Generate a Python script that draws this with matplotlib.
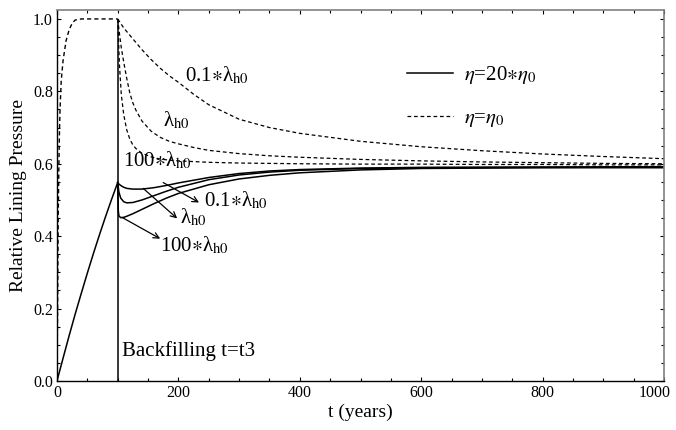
import matplotlib.pyplot as plt
import matplotlib.transforms as mtransforms
from matplotlib.ticker import MultipleLocator
from matplotlib.lines import Line2D

plt.rcParams['font.family'] = ['Liberation Serif', 'DejaVu Serif']
plt.rcParams['mathtext.fontset'] = 'stix'

# backfilling time t3 (years)
t_backfill = 100

# eta = eta0 (dashed): common rise before backfilling
rise_dash_t = [0, 1, 1.5, 2, 3, 4, 5, 7, 10, 15, 20, 25, 30, 40, 100]
rise_dash_p = [0, 0.2, 0.33, 0.45, 0.58, 0.68, 0.75, 0.83, 0.885, 0.94, 0.97, 0.988, 0.997, 1.0, 1.0]

# eta = eta0 (dashed): decay after backfilling
dash_t = [100, 103, 106, 110, 115, 120, 125, 130, 140, 155, 170, 185, 200, 225, 250, 300, 350, 400, 500, 600,
          700, 800, 900, 1000]
dash_01 = [1.0, 0.993, 0.985, 0.975, 0.965, 0.955, 0.945, 0.935, 0.915, 0.888, 0.864, 0.843, 0.825, 0.792,
           0.763, 0.723, 0.70, 0.684, 0.662, 0.647, 0.636, 0.627, 0.62, 0.614]
dash_1 = [1.0, 0.958, 0.92, 0.88, 0.835, 0.795, 0.768, 0.748, 0.718, 0.69, 0.673, 0.662, 0.655, 0.645,
          0.637, 0.628, 0.622, 0.618, 0.612, 0.608, 0.605, 0.603, 0.601, 0.60]
dash_100 = [1.0, 0.87, 0.79, 0.735, 0.693, 0.668, 0.652, 0.642, 0.629, 0.619, 0.613, 0.61, 0.608, 0.606,
            0.604, 0.602, 0.601, 0.60, 0.599, 0.599, 0.598, 0.598, 0.597, 0.597]

# eta = 20*eta0 (solid): rise before backfilling
rise_sol_t = [0, 10, 20, 30, 40, 50, 60, 70, 80, 90, 100]
rise_sol_p = [0, 0.063, 0.125, 0.185, 0.242, 0.298, 0.352, 0.404, 0.454, 0.502, 0.548]

# eta = 20*eta0 (solid): after backfilling
sol_t = [100, 101, 102, 105, 110, 115, 125, 140, 160, 180, 200, 250, 300, 350, 400, 500, 600, 800, 1000]
sol_01 = [0.548, 0.546, 0.544, 0.54, 0.535, 0.532, 0.53, 0.53, 0.534, 0.54, 0.547, 0.562, 0.573, 0.58,
          0.584, 0.588, 0.59, 0.591, 0.592]
sol_1 = [0.548, 0.535, 0.522, 0.505, 0.495, 0.492, 0.493, 0.5, 0.512, 0.524, 0.535, 0.556, 0.569, 0.577,
         0.582, 0.587, 0.589, 0.59, 0.591]
sol_100 = [0.548, 0.47, 0.456, 0.451, 0.452, 0.455, 0.462, 0.474, 0.49, 0.505, 0.518, 0.542, 0.558, 0.568,
           0.575, 0.583, 0.587, 0.589, 0.589]

fig = plt.figure(figsize=(6.76, 4.30), dpi=100)
ax = fig.add_axes([0.0843, 0.114, 0.898, 0.863])

dash_style = (0, (3, 2.2))
ax.plot(rise_dash_t, rise_dash_p, color='black', lw=1.0, linestyle=dash_style)
for vals in (dash_01, dash_1, dash_100):
    ax.plot(dash_t, vals, color='black', lw=0.9, linestyle=dash_style)

ax.plot(rise_sol_t, rise_sol_p, color='black', lw=1.1)
for vals in (sol_01, sol_1, sol_100):
    ax.plot(sol_t, vals, color='black', lw=1.1)
ax.vlines(t_backfill, 0, 1.0, color='black', lw=1.1)

fs = 15
sub = r'$_{\rm h0}$'
# labels on dashed curves
ax.text(211, 0.845, '0.1' + r'$\ast$' + 'λ' + sub, fontsize=fs, va='center')
ax.text(175, 0.72, 'λ' + sub, fontsize=fs, va='center')
ax.text(109, 0.609, '100' + r'$\ast$' + 'λ' + sub, fontsize=fs, va='center')

# labels on solid curves, with arrows
arrow = dict(arrowstyle='->', color='black', lw=0.9, shrinkA=0, shrinkB=0)
ax.annotate('', xy=(234, 0.493), xytext=(175, 0.548), arrowprops=arrow)
ax.annotate('', xy=(198, 0.449), xytext=(142, 0.532), arrowprops=arrow)
ax.annotate('', xy=(170, 0.393), xytext=(107, 0.452), arrowprops=arrow)
ax.text(242, 0.499, '0.1' + r'$\ast$' + 'λ' + sub, fontsize=fs, va='center')
ax.text(203, 0.452, 'λ' + sub, fontsize=fs, va='center')
ax.text(170, 0.374, '100' + r'$\ast$' + 'λ' + sub, fontsize=fs, va='center')

ax.text(107, 0.083, 'Backfilling t=t3', fontsize=fs, va='center')

handles = [Line2D([], [], color='black', lw=1.1),
           Line2D([], [], color='black', lw=0.9, linestyle=dash_style)]
ax.legend(handles, [r'$\eta$=20$\ast\eta_0$', r'$\eta$=$\eta_0$'], loc='upper left',
          bbox_to_anchor=(0.545, 0.905), frameon=False, fontsize=15,
          handlelength=2.25, handletextpad=0.5, labelspacing=1.1)

ax.set_xlim(0, 1000)
ax.set_ylim(0, 1.025)
ax.xaxis.set_major_locator(MultipleLocator(200))
ax.xaxis.set_minor_locator(MultipleLocator(50))
ax.yaxis.set_major_locator(MultipleLocator(0.2))
ax.yaxis.set_minor_locator(MultipleLocator(0.05))
ax.yaxis.set_major_formatter(plt.FormatStrFormatter('%.1f'))
ax.tick_params(which='both', direction='in', top=True, right=True, labelsize=11.5, pad=3)
ax.tick_params(which='major', length=3, width=0.8)
ax.tick_params(which='minor', length=2, width=0.8)

for side in ('top', 'right'):
    ax.spines[side].set_color('#808080')
    ax.spines[side].set_linewidth(1.2)
for side in ('left', 'bottom'):
    ax.spines[side].set_color('black')
    ax.spines[side].set_linewidth(1.0)

ax.set_xlabel('t (years)', fontsize=14, labelpad=2)
ax.set_ylabel('Relative Lining Pressure', fontsize=14, labelpad=4)

# the last x tick label sits a little left of its tick, as in the original
fig.canvas.draw()
for lbl in ax.get_xticklabels():
    if lbl.get_text() == '1000':
        lbl.set_transform(lbl.get_transform() + mtransforms.ScaledTranslation(-0.09, 0, fig.dpi_scale_trans))

fig.savefig('out.png', dpi=100)
